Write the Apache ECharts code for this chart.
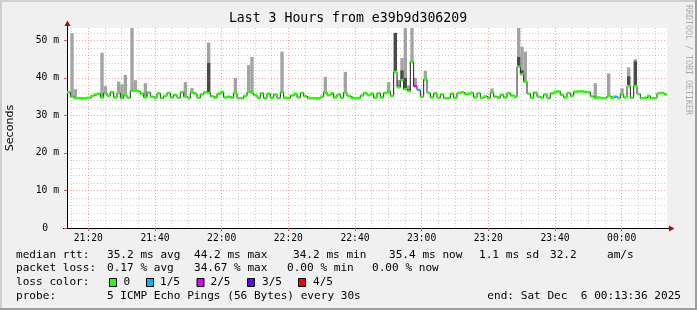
<!DOCTYPE html>
<html>
<head>
<meta charset="utf-8">
<script src="https://cdn.jsdelivr.net/npm/echarts@6/dist/echarts.min.js"></script>
<style>
html,body{margin:0;padding:0;background:#f0f0f0;}
#chart{width:697px;height:310px;}
</style>
</head>
<body>
<div id="chart"></div>
<script>
// ---------------- data ----------------
const titleText = 'Last 3 Hours from e39b9d306209';
const startTime = '21:13:36';
const endTime = '00:13:36';
const stepMinutes = 1;
const xTickLabels = ['21:20','21:40','22:00','22:20','22:40','23:00','23:20','23:40','00:00'];
const yTickValues = [0, 10, 20, 30, 40, 50];      // milliseconds
const yMax = 53.3;

// median rtt (ms), one value per minute
const median = [
  36.2,35.0,34.6,34.6,34.6,34.6,34.7,35.2,35.6,35.8,34.8,36.0,35.2,36.2,34.8,36.0,34.6,35.4,34.7,36.6,
  36.7,36.4,35.8,34.8,36.1,35.0,34.7,35.9,34.6,35.2,36.0,34.8,35.5,34.7,36.2,35.0,34.6,36.1,35.8,34.7,
  35.6,36.2,36.0,35.1,34.7,35.8,36.3,34.8,35.0,34.7,35.9,34.6,34.6,35.2,36.3,36.0,35.4,34.7,35.9,34.6,
  35.8,34.7,35.6,34.6,36.2,34.7,34.6,35.3,35.8,34.8,36.0,35.1,34.6,34.6,34.6,34.6,35.0,36.2,35.4,35.9,
  34.8,35.6,34.7,36.1,35.2,34.7,34.6,34.6,35.3,36.0,35.4,35.8,34.7,35.9,34.8,36.0,36.4,35.2,41.6,37.5,
  39.4,37.0,36.5,44.3,37.8,36.8,35.0,39.6,36.0,34.8,35.9,34.7,35.6,34.6,34.6,35.8,34.7,36.0,36.2,35.7,
  35.8,36.0,34.8,35.9,34.7,35.1,34.6,36.1,35.0,34.7,35.5,34.8,36.0,35.3,34.9,43.0,41.0,39.0,35.8,34.7,
  36.1,35.0,34.7,35.6,34.6,35.9,36.3,36.4,35.5,34.8,36.0,35.2,36.3,36.4,36.4,36.3,36.2,35.1,34.7,34.8,
  34.6,34.6,35.2,34.7,35.0,34.6,35.6,34.8,37.8,34.7,37.8,35.7,34.6,34.7,35.2,34.6,34.6,35.9,36.0,35.6
];

// packet loss (number of lost pings out of 5) at the few minutes that had any
const lossIndex = [104, 105, 164];
const lossLevel = [2, 1, 1];

// smoke spikes: minute index, highest ping (ms), inner ping (ms, null = none)
const spikeIndex = [1, 2, 10, 11, 15, 16, 17, 19, 20, 23, 35, 37, 42, 50, 54, 55, 64, 77, 83, 96,
                    98, 99, 100, 101, 102, 103, 104, 107, 127, 135, 136, 137, 158, 162, 166, 168, 170];
const spikeHigh  = [51.9, 37.0, 46.7, 37.8, 39.0, 38.3, 40.8, 54.0, 39.4, 38.6, 38.9, 37.3, 49.4, 40.0, 43.4, 45.6, 47.0, 40.3, 41.6, 38.9,
                    52.0, 39.5, 45.3, 54.0, 38.0, 54.0, 40.0, 41.9, 37.2, 54.0, 48.3, 47.0, 38.6, 41.2, 37.2, 42.8, 45.0];
const spikeInner = [null, null, null, null, null, null, null, null, null, null, null, null, 44.0, null, null, null, null, null, null, null,
                    52.0, 38.0, 42.0, 40.0, 37.0, 44.5, 38.0, 39.4, null, 45.6, 42.0, 39.0, null, null, null, 40.4, 44.4];

const lossColors = ['#26ff00', '#00b8ff', '#dd00ff', '#6400ff', '#ff0000'];
const lossLabels = ['0', '1/5', '2/5', '3/5', '4/5'];

const legendRows = [
  [['median rtt:', 16], ['35.2 ms avg', 107], ['44.2 ms max', 194], ['34.2 ms min', 293], ['35.4 ms now', 389], ['1.1 ms sd', 479], ['32.2', 550], ['am/s', 607]],
  [['packet loss:', 16], ['0.17 % avg', 107], ['34.67 % max', 194], ['0.00 % min', 287], ['0.00 % now', 372]],
  [['loss color:', 16]],
  [['probe:', 16], ['5 ICMP Echo Pings (56 Bytes) every 30s', 107]]
];
const endText = 'end: Sat Dec  6 00:13:36 2025';
const watermark = 'RRDTOOL / TOBI OETIKER';

// ---------------- build ----------------
function toMin(s) {
  const p = s.split(':').map(Number);
  const h = p[0] < 12 ? p[0] + 24 : p[0];
  return h * 60 + p[1] + (p[2] || 0) / 60 - 21 * 60;
}
const xMin = toMin(startTime), xMax = toMin(endTime);
const xMajor = xTickLabels.map(toMin);
const xMinor = [];
for (let v = 15; v < xMax; v += 5) if (v % 20 !== 0) xMinor.push(v);
const yMinor = [];
for (let v = 2; v < yMax; v += 2) if (v % 10 !== 0) yMinor.push(v);

const lossOf = median.map(() => 0);
lossIndex.forEach((idx, k) => { lossOf[idx] = lossLevel[k]; });

const bandData = median.map((m, i) => [xMin + i * stepMinutes, xMin + (i + 1) * stepMinutes, m, lossOf[i]]);
const lineData = median.map((m, i) => [xMin + i * stepMinutes, m]);
lineData.push([xMin + median.length * stepMinutes, median[median.length - 1]]);
const lightSmoke = spikeIndex.map((idx, k) => [xMin + idx * stepMinutes, xMin + (idx + 1) * stepMinutes, median[idx], spikeHigh[k]]);
const darkSmoke = [];
spikeIndex.forEach((idx, k) => {
  if (spikeInner[k] !== null) darkSmoke.push([xMin + idx * stepMinutes, xMin + (idx + 1) * stepMinutes, median[idx], spikeInner[k]]);
});

function rectItem(color) {
  return function (params, api) {
    const a = api.coord([api.value(0), api.value(3)]);
    const b = api.coord([api.value(1), api.value(2)]);
    const r = echarts.graphic.clipRectByRect(
      { x: a[0], y: Math.min(a[1], b[1]), width: b[0] - a[0], height: Math.abs(b[1] - a[1]) },
      { x: params.coordSys.x, y: params.coordSys.y, width: params.coordSys.width, height: params.coordSys.height });
    if (!r) return null;
    return { type: 'rect', shape: r, style: { fill: color } };
  };
}
function bandItem(params, api) {
  const a = api.coord([api.value(0), api.value(2)]);
  const b = api.coord([api.value(1), api.value(2)]);
  return { type: 'rect', shape: { x: a[0], y: a[1] - 1.25, width: b[0] - a[0], height: 2.5 },
           style: { fill: lossColors[api.value(3)] } };
}

const mono = 'DejaVu Sans Mono';
const gridMajor = 'rgba(222,95,95,0.55)';
const gridMinor = 'rgba(143,143,143,0.45)';

const graphics = [
  { type: 'rect', shape: { x: 0, y: 0, width: 697, height: 2 }, style: { fill: '#cfcfcf' }, silent: true },
  { type: 'rect', shape: { x: 0, y: 0, width: 2, height: 310 }, style: { fill: '#cfcfcf' }, silent: true },
  { type: 'rect', shape: { x: 0, y: 308, width: 697, height: 2 }, style: { fill: '#9e9e9e' }, silent: true },
  { type: 'rect', shape: { x: 695, y: 0, width: 2, height: 310 }, style: { fill: '#9e9e9e' }, silent: true },
  { type: 'text', x: 348, y: 19, style: { text: titleText, font: '13.2px "' + mono + '"', fill: '#000', textAlign: 'center', textVerticalAlign: 'middle' } },
  { type: 'text', x: 688, y: 5, rotation: -Math.PI / 2, style: { text: watermark, font: '8.3px "' + mono + '"', fill: '#ababab', textAlign: 'left', textVerticalAlign: 'middle' } },
  // axis extensions and arrows
  { type: 'line', shape: { x1: 67.5, y1: 28, x2: 67.5, y2: 24 }, style: { stroke: '#000', lineWidth: 1 } },
  { type: 'polygon', shape: { points: [[67.5, 20.5], [64.5, 26], [70.5, 26]] }, style: { fill: '#a01010' } },
  { type: 'line', shape: { x1: 667, y1: 228.5, x2: 670, y2: 228.5 }, style: { stroke: '#000', lineWidth: 1 } },
  { type: 'line', shape: { x1: 63, y1: 228.5, x2: 67, y2: 228.5 }, style: { stroke: '#000', lineWidth: 1 } },
  { type: 'polygon', shape: { points: [[674.5, 228.5], [669, 225.5], [669, 231.5]] }, style: { fill: '#a01010' } }
];
const rowY = [255, 268.5, 282.5, 296.5];
legendRows.forEach((row, r) => row.forEach(([t, x]) => {
  graphics.push({ type: 'text', x: x, y: rowY[r], style: { text: t, font: '11.1px "' + mono + '"', fill: '#000', textVerticalAlign: 'middle' } });
}));
const boxX = [109, 146, 196.5, 247, 298];
const boxLabelX = [123.5, 160, 210.5, 262, 313];
lossLabels.forEach((lab, k) => {
  graphics.push({ type: 'rect', shape: { x: boxX[k] + 0.5, y: 278.5, width: 7, height: 8 }, style: { fill: lossColors[k], stroke: '#000', lineWidth: 1 } });
  graphics.push({ type: 'text', x: boxLabelX[k], y: rowY[2], style: { text: lab, font: '11.1px "' + mono + '"', fill: '#000', textVerticalAlign: 'middle' } });
});
graphics.push({ type: 'text', x: 681, y: rowY[3], style: { text: endText, font: '11.1px "' + mono + '"', fill: '#000', textAlign: 'right', textVerticalAlign: 'middle' } });

const chart = echarts.init(document.getElementById('chart'), null, { renderer: 'canvas' });
chart.setOption({
  animation: false,
  backgroundColor: '#f0f0f0',
  grid: { left: 67, right: 30, top: 28, bottom: 82, show: true, backgroundColor: '#ffffff', borderWidth: 0,
          containLabel: false, outerBoundsMode: 'none' },
  xAxis: [
    { type: 'value', min: xMin, max: xMax, z: 1,
      axisLine: { show: true, onZero: false, lineStyle: { color: '#000', width: 1 } },
      axisTick: { show: true, customValues: xMajor, length: 3, lineStyle: { color: '#c06060' } },
      axisLabel: { show: true, customValues: xMajor, margin: 5, fontFamily: mono, fontSize: 9.7, color: '#000',
        formatter: v => xTickLabels[xMajor.findIndex(t => Math.abs(t - v) < 1e-6)] },
      splitLine: { show: true, lineStyle: { color: gridMajor, width: 1, type: [1, 2] } } },
    { type: 'value', min: xMin, max: xMax, z: 0,
      axisLine: { show: false }, axisLabel: { show: false },
      axisTick: { show: false, customValues: xMinor },
      splitLine: { show: true, lineStyle: { color: gridMinor, width: 1, type: [1, 2] } } }
  ],
  yAxis: [
    { type: 'value', min: 0, max: yMax, z: 1,
      name: 'Seconds', nameLocation: 'middle', nameGap: 51,
      nameTextStyle: { fontFamily: 'DejaVu Sans', fontSize: 11.1, color: '#000' },
      axisLine: { show: true, lineStyle: { color: '#000', width: 1 } },
      axisTick: { show: true, customValues: yTickValues, length: 3, lineStyle: { color: '#c06060' } },
      axisLabel: { show: true, customValues: yTickValues, margin: 8, fontFamily: mono, fontSize: 9.7, color: '#000',
        formatter: v => v === 0 ? '{z|0}' : v + ' m',
        rich: { z: { fontFamily: mono, fontSize: 9.7, color: '#000', padding: [0, 11, 0, 0] } } },
      splitLine: { show: true, lineStyle: { color: gridMajor, width: 1, type: [1, 2] } } },
    { type: 'value', min: 0, max: yMax, z: 0,
      axisLine: { show: false }, axisLabel: { show: false },
      axisTick: { show: false, customValues: yMinor },
      splitLine: { show: true, lineStyle: { color: gridMinor, width: 1, type: [1, 2] } } }
  ],
  series: [
    { type: 'custom', name: 'smoke', xAxisIndex: 0, yAxisIndex: 0, z: 2, silent: true,
      renderItem: rectItem('#a3a3a3'), data: lightSmoke },
    { type: 'custom', name: 'smoke inner', xAxisIndex: 0, yAxisIndex: 0, z: 3, silent: true,
      renderItem: rectItem('#4a4a4a'), data: darkSmoke },
    { type: 'line', name: 'median', xAxisIndex: 0, yAxisIndex: 0, z: 4, step: 'end', symbol: 'none',
      lineStyle: { color: '#202020', width: 1 }, data: lineData, silent: true },
    { type: 'custom', name: 'loss band', xAxisIndex: 0, yAxisIndex: 0, z: 5, silent: true,
      renderItem: bandItem, data: bandData }
  ],
  graphic: graphics
});
</script>
</body>
</html>
